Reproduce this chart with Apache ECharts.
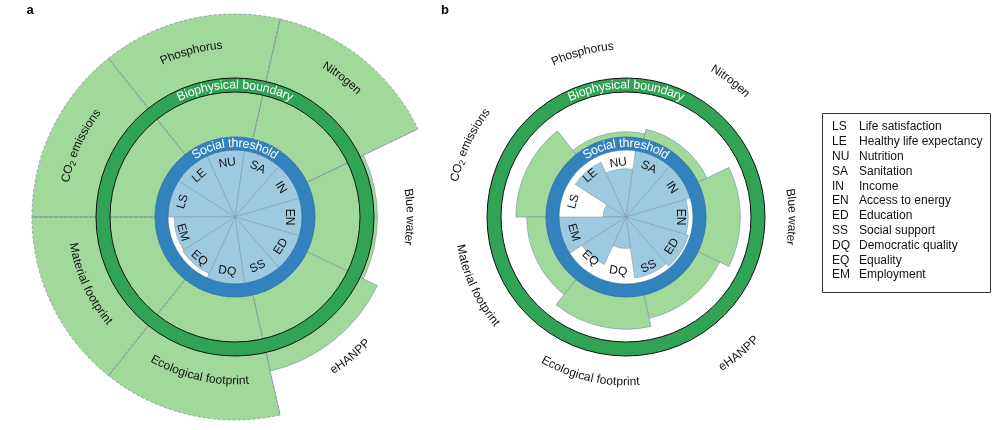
<!DOCTYPE html>
<html><head><meta charset="utf-8">
<script src="https://cdn.jsdelivr.net/npm/echarts@6/dist/echarts.min.js"></script>
<style>html,body{margin:0;padding:0;background:#fff}#c{width:1000px;height:430px}</style>
</head><body><div id="c"></div>
<script>
// ---------- data ----------
const socialCodes = ['LS','LE','NU','SA','IN','EN','ED','SS','DQ','EQ','EM'];
const socialNames = ['Life satisfaction','Healthy life expectancy','Nutrition','Sanitation','Income','Access to energy','Education','Social support','Democratic quality','Equality','Employment'];
const bioNames = ['CO2 emissions','Phosphorus','Nitrogen','Blue water','eHANPP','Ecological footprint','Material footprint'];
// social indicators relative to threshold (1 = threshold)
const socialA = [1, 1, 1, 1, 1, 1, 1, 1, 1, 0.93, 0.91];
const socialB = [0.34, 0.9, 0.72, 1, 1, 0.93, 0.97, 0.92, 0.47, 0.78, 1];
// biophysical indicators relative to boundary (1 = boundary); 2.365 = chart edge (value truncated there)
const bioA = [2.365, 2.365, 2.365, 1.2, 1.5, 2.365, 2.365];
const bioB = [0.58, 0.1, 0.19, 0.66, 0.46, 0.62, 0.37];
const panelLetters = ['a', 'b'];

// ---------- layout ----------
const FONT = '"Liberation Sans", Arial, Helvetica, sans-serif';
const R_SOC = 67, R_RING_OUT = 80, R_BOUND = 132, BOUND_HALF = 7;
const BIO_MAX = 2.365;                        // chart edge in boundary units
const R_BIO_MAX = R_RING_OUT + BIO_MAX * (R_BOUND - R_RING_OUT);
const LABEL_SHIFT = [1, 2, 1, 0, 1, 0, -1];   // small angular nudges of the outer names (deg)
const panels = [
  {cx: 235, cy: 217, social: socialA, bio: bioA, letterX: 30, labelR: [173,172,176,175,182,164,164]},
  {cx: 626, cy: 217, social: socialB, bio: bioB, letterX: 445, labelR: [175,171,172,166,178,165,168]}
];
const C = {lblue:'#9ecae1', blue:'#3182bd', lgreen:'#a1d99b', dgreen:'#31a354', edge:'#7f9aab', dash:'#8a959c'};

const ctx = document.createElement('canvas').getContext('2d');
function measure(t, size) { ctx.font = size + 'px ' + FONT; return ctx.measureText(t).width; }
function textEl(x, y, rot, t, size, color, z, weight) {
  const font = (weight || 'normal') + ' ' + size + 'px ' + FONT;
  return {type:'text', x, y, rotation: rot, z: z || 100, silent: true,
    style: {text: t, x: 0, y: 0, font, fill: color, align:'center', verticalAlign:'middle', textAlign:'center', textVerticalAlign:'middle'}};
}
// text along an arc; parts: [{t, size, dr}]
function arcText(parts, cx, cy, r, angDeg, flip, color) {
  const chars = [];
  parts.forEach(p => { for (const ch of p.t) chars.push({ch, size: p.size, dr: p.dr || 0, w: measure(ch, p.size)}); });
  const total = chars.reduce((s, c) => s + c.w, 0);
  const a0 = angDeg * Math.PI / 180;
  let acc = 0; const els = [];
  chars.forEach(c => {
    const mid = (acc + c.w / 2 - total / 2) / r;
    acc += c.w;
    const th = flip ? a0 + mid : a0 - mid;
    const rr = flip ? r + c.dr : r - c.dr;
    const x = cx + rr * Math.cos(th), y = cy - rr * Math.sin(th);
    const rot = flip ? th + Math.PI / 2 : th - Math.PI / 2;
    els.push(textEl(x, y, rot, c.ch, c.size, color));
  });
  return els;
}
function labelParts(name, size) {
  if (name.startsWith('CO2')) return [{t:'CO', size}, {t:'2', size: size * 0.72, dr: 3}, {t: name.slice(3), size}];
  return [{t: name, size}];
}

const polar = [], angleAxis = [], radiusAxis = [], series = [], graphic = [];
const hidden = {axisLine:{show:false}, axisTick:{show:false}, axisLabel:{show:false}, splitLine:{show:false}};
panels.forEach((p, k) => {
  const trunc = p.bio.map(v => v >= BIO_MAX);
  const n = p.bio.length;
  const P0 = 3*k, P1 = 3*k+1, P2 = 3*k+2;
  polar.push({center: [p.cx, p.cy], radius: [0, R_SOC]});
  polar.push({center: [p.cx, p.cy], radius: [R_RING_OUT, R_BIO_MAX]});
  polar.push({center: [p.cx, p.cy], radius: [R_RING_OUT, R_BIO_MAX]});
  angleAxis.push(Object.assign({polarIndex: P0, type:'category', data: socialCodes, startAngle: 180, clockwise: true}, hidden));
  angleAxis.push(Object.assign({polarIndex: P1, type:'category', data: bioNames, startAngle: 180, clockwise: true}, hidden));
  angleAxis.push(Object.assign({polarIndex: P2, type:'value', min: 0, max: n, startAngle: 180, clockwise: true}, hidden));
  radiusAxis.push(Object.assign({polarIndex: P0, type:'value', min: 0, max: 1}, hidden));
  radiusAxis.push(Object.assign({polarIndex: P1, type:'value', min: 0, max: BIO_MAX}, hidden));
  radiusAxis.push(Object.assign({polarIndex: P2, type:'value', min: 0, max: BIO_MAX}, hidden));
  series.push({type:'bar', coordinateSystem:'polar', polarIndex: P0, barCategoryGap:'0%', silent:true,
    data: p.social, itemStyle:{color: C.lblue, borderColor: C.edge, borderWidth: 0.6}, z: 3});
  series.push({type:'bar', coordinateSystem:'polar', polarIndex: P1, barCategoryGap:'0%', barGap:'-100%', silent:true,
    data: p.bio.map((v, i) => ({value: v, itemStyle: {borderWidth: trunc[i] ? 0 : 0.7}})),
    itemStyle:{color: C.lgreen, borderColor: C.edge}, z: 2});
  // dashed outline for wedges that run past the chart edge
  series.push({type:'bar', coordinateSystem:'polar', polarIndex: P1, barCategoryGap:'0%', barGap:'-100%', silent:true,
    data: p.bio.map((v, i) => trunc[i] ? v : '-'),
    itemStyle:{color: 'rgba(0,0,0,0)', borderColor: C.dash, borderWidth: 0.8, borderType: [3, 2]}, z: 5});
  // solid full-depth dividers beside truncated wedges
  for (let i = 0; i < n; i++) {
    const a = trunc[i], b = trunc[(i - 1 + n) % n];
    if (!(a || b)) continue;
    series.push({type:'line', coordinateSystem:'polar', polarIndex: P2, silent: true, symbol:'none', z: 4,
      lineStyle:{color: C.edge, width: 0.7}, data: [[0, i], [BIO_MAX, i]]});
  }
  // rings
  graphic.push({type:'ring', z: 50, silent: true, shape:{cx: p.cx, cy: p.cy, r: R_BOUND + BOUND_HALF, r0: R_BOUND - BOUND_HALF},
    style:{fill: C.dgreen, stroke:'#111', lineWidth: 1}});
  graphic.push({type:'ring', z: 50, silent: true, shape:{cx: p.cx, cy: p.cy, r: R_RING_OUT, r0: R_SOC},
    style:{fill: C.blue, stroke:'#2a6797', lineWidth: 0.6}});
  graphic.push(...arcText([{t:'Social threshold', size: 12.5}], p.cx, p.cy, (R_SOC + R_RING_OUT) / 2, 90, false, '#fff'));
  graphic.push(...arcText([{t:'Biophysical boundary', size: 12.5}], p.cx, p.cy, R_BOUND, 90, false, '#fff'));
  // social codes
  socialCodes.forEach((code, i) => {
    const ang = 180 - (i + 0.5) * 360 / 11;
    const flip = ang < -10;
    const th = ang * Math.PI / 180, r = 54.5;
    graphic.push(textEl(p.cx + r * Math.cos(th), p.cy - r * Math.sin(th), flip ? th + Math.PI/2 : th - Math.PI/2, code, 12, '#111'));
  });
  // biophysical names
  bioNames.forEach((name, i) => {
    const ang = 180 - (i + 0.5) * 360 / 7 + LABEL_SHIFT[i];
    const flip = ang < -10;
    graphic.push(...arcText(labelParts(name, 12), p.cx, p.cy, p.labelR[i], ang, flip, '#111'));
  });
  graphic.push(textEl(p.letterX, 10, 0, panelLetters[k], 13, '#000', 100, 'bold'));
});
// key box
graphic.push({type:'rect', z: 100, silent: true, shape:{x: 822.5, y: 113.5, width: 168, height: 179}, style:{fill:'#fff', stroke:'#333', lineWidth: 1}});
socialCodes.forEach((code, i) => {
  const y = 127 + i * 14.8;
  graphic.push({type:'text', z: 101, silent: true, x: 832, y, style:{text: code, font:'12px ' + FONT, fill:'#111', align:'left', verticalAlign:'middle', textAlign:'left', textVerticalAlign:'middle'}});
  graphic.push({type:'text', z: 101, silent: true, x: 859, y, style:{text: socialNames[i], font:'12px ' + FONT, fill:'#111', align:'left', verticalAlign:'middle', textAlign:'left', textVerticalAlign:'middle'}});
});

const chart = echarts.init(document.getElementById('c'), null, {renderer:'canvas'});
chart.setOption({animation:false, backgroundColor:'#fff', polar, angleAxis, radiusAxis, series, graphic});
</script></body></html>
